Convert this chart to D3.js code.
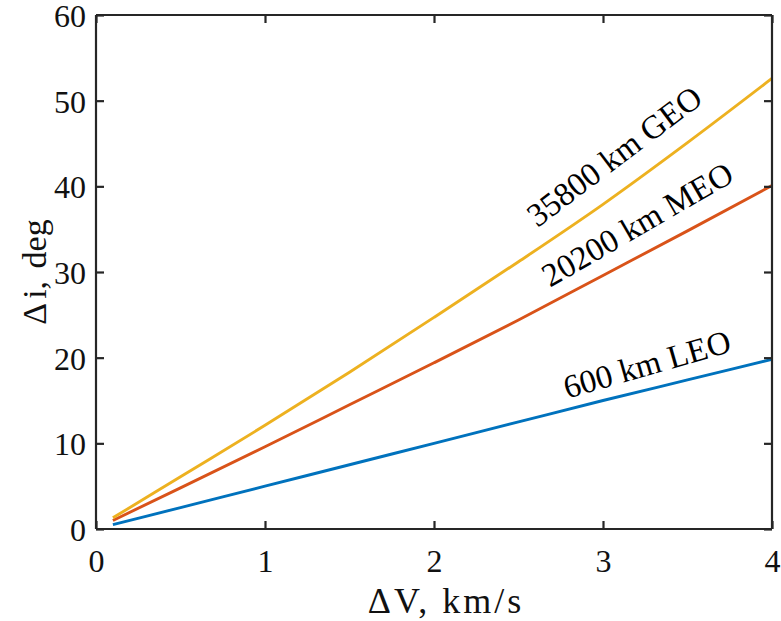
<!DOCTYPE html>
<html><head><meta charset="utf-8">
<script src="https://cdn.jsdelivr.net/npm/d3@7"></script>
<style>body{margin:0;background:#fff}svg{display:block}</style>
</head><body>
<script>
const deltaV = [0.1, 0.5, 1, 1.5, 2, 2.5, 3, 3.5, 4];
const leo = [0.5, 2.5, 5.0, 7.5, 10.0, 12.5, 15.0, 17.4, 19.8];
const meo = [1.0, 4.8, 9.6, 14.5, 19.4, 24.4, 29.6, 34.8, 40.1];
const geo = [1.3, 6.1, 12.1, 18.3, 24.7, 31.2, 37.9, 45.1, 52.6];
const seriesNames = ["600 km LEO", "20200 km MEO", "35800 km GEO"];
const xTicks = [0, 1, 2, 3, 4];
const yTicks = [0, 10, 20, 30, 40, 50, 60];

const W = 781, H = 621;
const m = {left: 96, right: 9, top: 15, bottom: 92};
const svg = d3.select("body").append("svg").attr("width", W).attr("height", H);
const x = d3.scaleLinear().domain([0, 4]).range([m.left, W - m.right]);
const y = d3.scaleLinear().domain([0, 60]).range([H - m.bottom, m.top]);
const font = "'Liberation Serif', 'Times New Roman', Tinos, serif";
const axisColor = "#262626";

const series = [
  {name: seriesNames[0], vals: leo, color: "#0072BD", lx: 650, ly: 375, rot: -16},
  {name: seriesNames[1], vals: meo, color: "#D95319", lx: 643, ly: 234, rot: -30},
  {name: seriesNames[2], vals: geo, color: "#EDB120", lx: 621, ly: 165, rot: -37}
];
const line = d3.line().x((d, i) => x(deltaV[i])).y(d => y(d)).curve(d3.curveMonotoneX);
series.forEach(s => {
  svg.append("path").datum(s.vals).attr("d", line)
    .attr("fill", "none").attr("stroke", s.color).attr("stroke-width", 2.9);
});

// axes
const tickLen = 8;
const gx = svg.append("g").attr("transform", `translate(0,${y(0)})`)
  .call(d3.axisBottom(x).tickValues(xTicks).tickSize(-tickLen).tickPadding(20).tickFormat(d3.format("d")));
const gxt = svg.append("g").attr("transform", `translate(0,${y(60)})`)
  .call(d3.axisTop(x).tickValues(xTicks).tickSize(-tickLen).tickFormat(""));
const gy = svg.append("g").attr("transform", `translate(${x(0)},0)`)
  .call(d3.axisLeft(y).tickValues(yTicks).tickSize(-tickLen).tickPadding(10).tickFormat(d3.format("d")));
const gyr = svg.append("g").attr("transform", `translate(${x(4)},0)`)
  .call(d3.axisRight(y).tickValues(yTicks).tickSize(-tickLen).tickFormat(""));
[gx, gxt, gy, gyr].forEach(g => {
  g.selectAll("path").attr("stroke", axisColor).attr("stroke-width", 2.2);
  g.selectAll("line").attr("stroke", axisColor).attr("stroke-width", 2.2);
  g.selectAll("text").attr("font-family", font).attr("font-size", 32).attr("fill", "#111");
});
gx.selectAll("path").attr("d", `M${x(0)},0H${x(4)}`);
gxt.selectAll("path").attr("d", `M${x(0)},0H${x(4)}`);
gy.selectAll("path").attr("d", `M0,${y(0)}V${y(60)}`);
gyr.selectAll("path").attr("d", `M0,${y(0)}V${y(60)}`);
gy.selectAll("text").attr("dy", "0.36em");

// axis labels
svg.append("text").attr("x", (x(0) + x(4)) / 2 + 12).attr("y", 613)
  .attr("text-anchor", "middle").attr("font-family", font).attr("font-size", 36).attr("fill", "#111")
  .attr("letter-spacing", 3)
  .text("ΔV, km/s");
const yl = svg.append("text").attr("transform", `translate(46,272) rotate(-90)`)
  .attr("text-anchor", "middle").attr("font-family", font).attr("font-size", 34).attr("fill", "#111");
yl.append("tspan").text("Δ");
yl.append("tspan").attr("dx", 4).text("i,");
yl.append("tspan").attr("dx", 4).text(" deg");

// series annotations
series.forEach(s => {
  svg.append("text").attr("transform", `translate(${s.lx},${s.ly}) rotate(${s.rot})`)
    .attr("text-anchor", "middle").attr("font-family", font).attr("font-size", 33).attr("fill", "#000")
    .text(s.name);
});
</script>
</body></html>
